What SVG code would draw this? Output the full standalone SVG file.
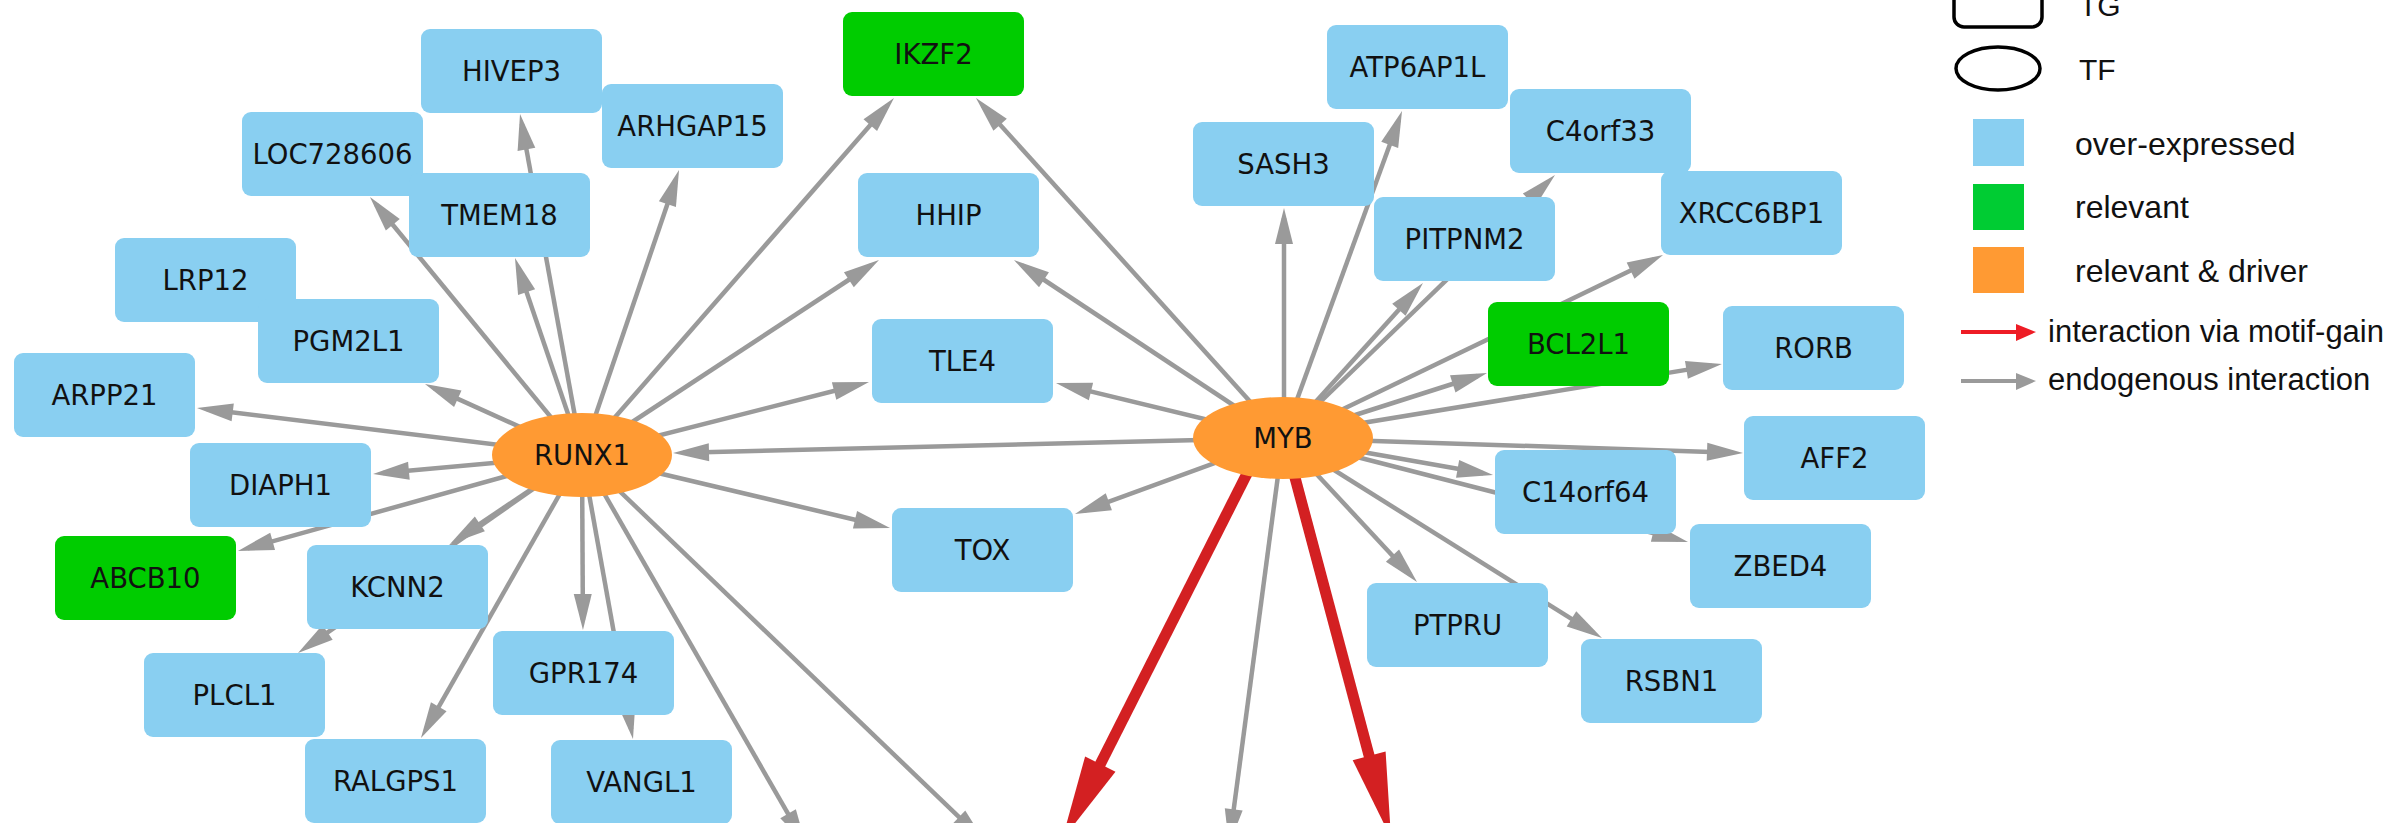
<svg xmlns="http://www.w3.org/2000/svg" width="2386" height="823" viewBox="0 0 2386 823">
<style>
.tg{fill:#89CFF1}
.rel{fill:#00CC00}
.tf{fill:#FF9A33}
.lbl{font-family:"DejaVu Sans",Verdana,sans-serif;font-size:27.5px;fill:#111;text-anchor:middle}
.e{stroke:#9A9A9A;stroke-width:4.5;fill:none;marker-end:url(#ag)}
.r{stroke:#D32022;stroke-width:11;fill:none;marker-end:url(#ar)}
.leg{font-family:"Liberation Sans",Arial,sans-serif;fill:#111}
</style>
<defs>
<marker id="ag" markerUnits="userSpaceOnUse" markerWidth="36" markerHeight="18" refX="26" refY="9" orient="auto" overflow="visible"><path d="M0,0 L36,9 L0,18 z" fill="#9A9A9A"/></marker>
<marker id="ar" markerUnits="userSpaceOnUse" markerWidth="85" markerHeight="34" refX="55" refY="17" orient="auto" overflow="visible"><path d="M0,0 L85,17 L0,34 z" fill="#D32022"/></marker>
</defs>
<rect width="2386" height="823" fill="#fff"/>
<g id="connectors">
<line class="e" x1="582" y1="455" x2="206.9" y2="409.2"/>
<line class="e" x1="582" y1="455" x2="383" y2="473.1"/>
<line class="e" x1="582" y1="455" x2="247.6" y2="548.3"/>
<line class="e" x1="582" y1="455" x2="458.3" y2="538.4"/>
<line class="e" x1="582" y1="455" x2="306.2" y2="647.3"/>
<line class="e" x1="582" y1="455" x2="425.9" y2="729.3"/>
<line class="e" x1="582" y1="455" x2="582.9" y2="620"/>
<line class="e" x1="582" y1="455" x2="631.2" y2="729.2"/>
<line class="e" x1="582" y1="455" x2="801" y2="836.3"/>
<line class="e" x1="582" y1="455" x2="977.8" y2="835.1"/>
<line class="e" x1="582" y1="455" x2="880.3" y2="525.7"/>
<line class="e" x1="582" y1="455" x2="859.3" y2="384.5"/>
<line class="e" x1="582" y1="455" x2="870.6" y2="265.5"/>
<line class="e" x1="582" y1="455" x2="887.4" y2="105.5"/>
<line class="e" x1="582" y1="455" x2="675.8" y2="179.5"/>
<line class="e" x1="582" y1="455" x2="518.2" y2="267.5"/>
<line class="e" x1="582" y1="455" x2="521.8" y2="123.8"/>
<line class="e" x1="582" y1="455" x2="376.3" y2="204.7"/>
<line class="e" x1="582" y1="455" x2="434.1" y2="388.1"/>
<line class="e" x1="1283" y1="438" x2="683" y2="452.8"/>
<line class="e" x1="1283" y1="438" x2="1065.7" y2="385.4"/>
<line class="e" x1="1283" y1="438" x2="1022.3" y2="265.5"/>
<line class="e" x1="1283" y1="438" x2="982.7" y2="105.4"/>
<line class="e" x1="1284" y1="438" x2="1284" y2="218"/>
<line class="e" x1="1283" y1="438" x2="1398.6" y2="120.4"/>
<line class="e" x1="1283" y1="438" x2="1416.3" y2="290.4"/>
<line class="e" x1="1283" y1="438" x2="1547.8" y2="182"/>
<line class="e" x1="1283" y1="438" x2="1654" y2="259.3"/>
<line class="e" x1="1283" y1="438" x2="1477.5" y2="376"/>
<line class="e" x1="1283" y1="436" x2="1712.1" y2="365.6"/>
<line class="e" x1="1283" y1="438" x2="1733" y2="452.7"/>
<line class="e" x1="1283" y1="438" x2="1483.2" y2="473.3"/>
<line class="e" x1="1283" y1="438" x2="1678.3" y2="539.5"/>
<line class="e" x1="1283" y1="438" x2="1410.2" y2="574.7"/>
<line class="e" x1="1283" y1="438" x2="1593.5" y2="632.7"/>
<line class="e" x1="1283" y1="438" x2="1084.4" y2="510.6"/>
<line class="e" x1="1283" y1="438" x2="1230.3" y2="835.1"/>
<line class="r" x1="1264" y1="440" x2="1075.5" y2="813.2"/>
<line class="r" x1="1285" y1="440" x2="1383.3" y2="809"/>
</g>
<g id="node-HIVEP3"><rect class="tg" x="421" y="29" width="181" height="84" rx="9"/><text class="lbl" x="511.5" y="81">HIVEP3</text></g>
<g id="node-LOC728606"><rect class="tg" x="242" y="112" width="181" height="84" rx="9"/><text class="lbl" x="332.5" y="164">LOC728606</text></g>
<g id="node-TMEM18"><rect class="tg" x="409" y="173" width="181" height="84" rx="9"/><text class="lbl" x="499.5" y="225">TMEM18</text></g>
<g id="node-ARHGAP15"><rect class="tg" x="602" y="84" width="181" height="84" rx="9"/><text class="lbl" x="692.5" y="136">ARHGAP15</text></g>
<g id="node-LRP12"><rect class="tg" x="115" y="238" width="181" height="84" rx="9"/><text class="lbl" x="205.5" y="290">LRP12</text></g>
<g id="node-PGM2L1"><rect class="tg" x="258" y="299" width="181" height="84" rx="9"/><text class="lbl" x="348.5" y="351">PGM2L1</text></g>
<g id="node-ARPP21"><rect class="tg" x="14" y="353" width="181" height="84" rx="9"/><text class="lbl" x="104.5" y="405">ARPP21</text></g>
<g id="node-DIAPH1"><rect class="tg" x="190" y="443" width="181" height="84" rx="9"/><text class="lbl" x="280.5" y="495">DIAPH1</text></g>
<g id="node-ABCB10"><rect class="rel" x="55" y="536" width="181" height="84" rx="9"/><text class="lbl" x="145.5" y="588">ABCB10</text></g>
<g id="node-KCNN2"><rect class="tg" x="307" y="545" width="181" height="84" rx="9"/><text class="lbl" x="397.5" y="597">KCNN2</text></g>
<g id="node-PLCL1"><rect class="tg" x="144" y="653" width="181" height="84" rx="9"/><text class="lbl" x="234.5" y="705">PLCL1</text></g>
<g id="node-GPR174"><rect class="tg" x="493" y="631" width="181" height="84" rx="9"/><text class="lbl" x="583.5" y="683">GPR174</text></g>
<g id="node-RALGPS1"><rect class="tg" x="305" y="739" width="181" height="84" rx="9"/><text class="lbl" x="395.5" y="791">RALGPS1</text></g>
<g id="node-VANGL1"><rect class="tg" x="551" y="740" width="181" height="84" rx="9"/><text class="lbl" x="641.5" y="792">VANGL1</text></g>
<g id="node-IKZF2"><rect class="rel" x="843" y="12" width="181" height="84" rx="9"/><text class="lbl" x="933.5" y="64">IKZF2</text></g>
<g id="node-HHIP"><rect class="tg" x="858" y="173" width="181" height="84" rx="9"/><text class="lbl" x="948.5" y="225">HHIP</text></g>
<g id="node-TLE4"><rect class="tg" x="872" y="319" width="181" height="84" rx="9"/><text class="lbl" x="962.5" y="371">TLE4</text></g>
<g id="node-TOX"><rect class="tg" x="892" y="508" width="181" height="84" rx="9"/><text class="lbl" x="982.5" y="560">TOX</text></g>
<g id="node-SASH3"><rect class="tg" x="1193" y="122" width="181" height="84" rx="9"/><text class="lbl" x="1283.5" y="174">SASH3</text></g>
<g id="node-ATP6AP1L"><rect class="tg" x="1327" y="25" width="181" height="84" rx="9"/><text class="lbl" x="1417.5" y="77">ATP6AP1L</text></g>
<g id="node-C4orf33"><rect class="tg" x="1510" y="89" width="181" height="84" rx="9"/><text class="lbl" x="1600.5" y="141">C4orf33</text></g>
<g id="node-PITPNM2"><rect class="tg" x="1374" y="197" width="181" height="84" rx="9"/><text class="lbl" x="1464.5" y="249">PITPNM2</text></g>
<g id="node-XRCC6BP1"><rect class="tg" x="1661" y="171" width="181" height="84" rx="9"/><text class="lbl" x="1751.5" y="223">XRCC6BP1</text></g>
<g id="node-BCL2L1"><rect class="rel" x="1488" y="302" width="181" height="84" rx="9"/><text class="lbl" x="1578.5" y="354">BCL2L1</text></g>
<g id="node-RORB"><rect class="tg" x="1723" y="306" width="181" height="84" rx="9"/><text class="lbl" x="1813.5" y="358">RORB</text></g>
<g id="node-AFF2"><rect class="tg" x="1744" y="416" width="181" height="84" rx="9"/><text class="lbl" x="1834.5" y="468">AFF2</text></g>
<g id="node-C14orf64"><rect class="tg" x="1495" y="450" width="181" height="84" rx="9"/><text class="lbl" x="1585.5" y="502">C14orf64</text></g>
<g id="node-ZBED4"><rect class="tg" x="1690" y="524" width="181" height="84" rx="9"/><text class="lbl" x="1780.5" y="576">ZBED4</text></g>
<g id="node-PTPRU"><rect class="tg" x="1367" y="583" width="181" height="84" rx="9"/><text class="lbl" x="1457.5" y="635">PTPRU</text></g>
<g id="node-RSBN1"><rect class="tg" x="1581" y="639" width="181" height="84" rx="9"/><text class="lbl" x="1671.5" y="691">RSBN1</text></g>
<g id="node-RUNX1"><ellipse class="tf" cx="582" cy="455" rx="90" ry="42"/><text class="lbl" x="582" y="465">RUNX1</text></g>
<g id="node-MYB"><ellipse class="tf" cx="1283" cy="438" rx="90" ry="41"/><text class="lbl" x="1283" y="448">MYB</text></g>
<g id="legend">
<rect x="1954" y="-20" width="88" height="47" rx="10" fill="none" stroke="#000" stroke-width="3.5"/>
<text class="leg" x="2079" y="16" font-size="30">TG</text>
<ellipse cx="1998" cy="68.5" rx="42" ry="21.5" fill="none" stroke="#000" stroke-width="3.5"/>
<text class="leg" x="2079" y="80" font-size="30">TF</text>
<rect x="1973" y="119" width="51" height="47" fill="#89CFF1"/>
<text class="leg" x="2075" y="155" font-size="32">over-expressed</text>
<rect x="1973" y="184" width="51" height="46" fill="#00CC33"/>
<text class="leg" x="2075" y="218" font-size="32">relevant</text>
<rect x="1973" y="247" width="51" height="46" fill="#FF9A33"/>
<text class="leg" x="2075" y="282" font-size="32">relevant &amp; driver</text>
<line x1="1961" y1="332" x2="2018" y2="332" stroke="#EE1C25" stroke-width="4"/>
<path d="M2016,324 L2036,332 L2016,341 z" fill="#EE1C25"/>
<text class="leg" x="2048" y="342" font-size="31">interaction via motif-gain</text>
<line x1="1961" y1="381" x2="2018" y2="381" stroke="#9A9A9A" stroke-width="4"/>
<path d="M2016,373 L2036,381 L2016,390 z" fill="#9A9A9A"/>
<text class="leg" x="2048" y="390" font-size="31">endogenous interaction</text>
</g>
</svg>
